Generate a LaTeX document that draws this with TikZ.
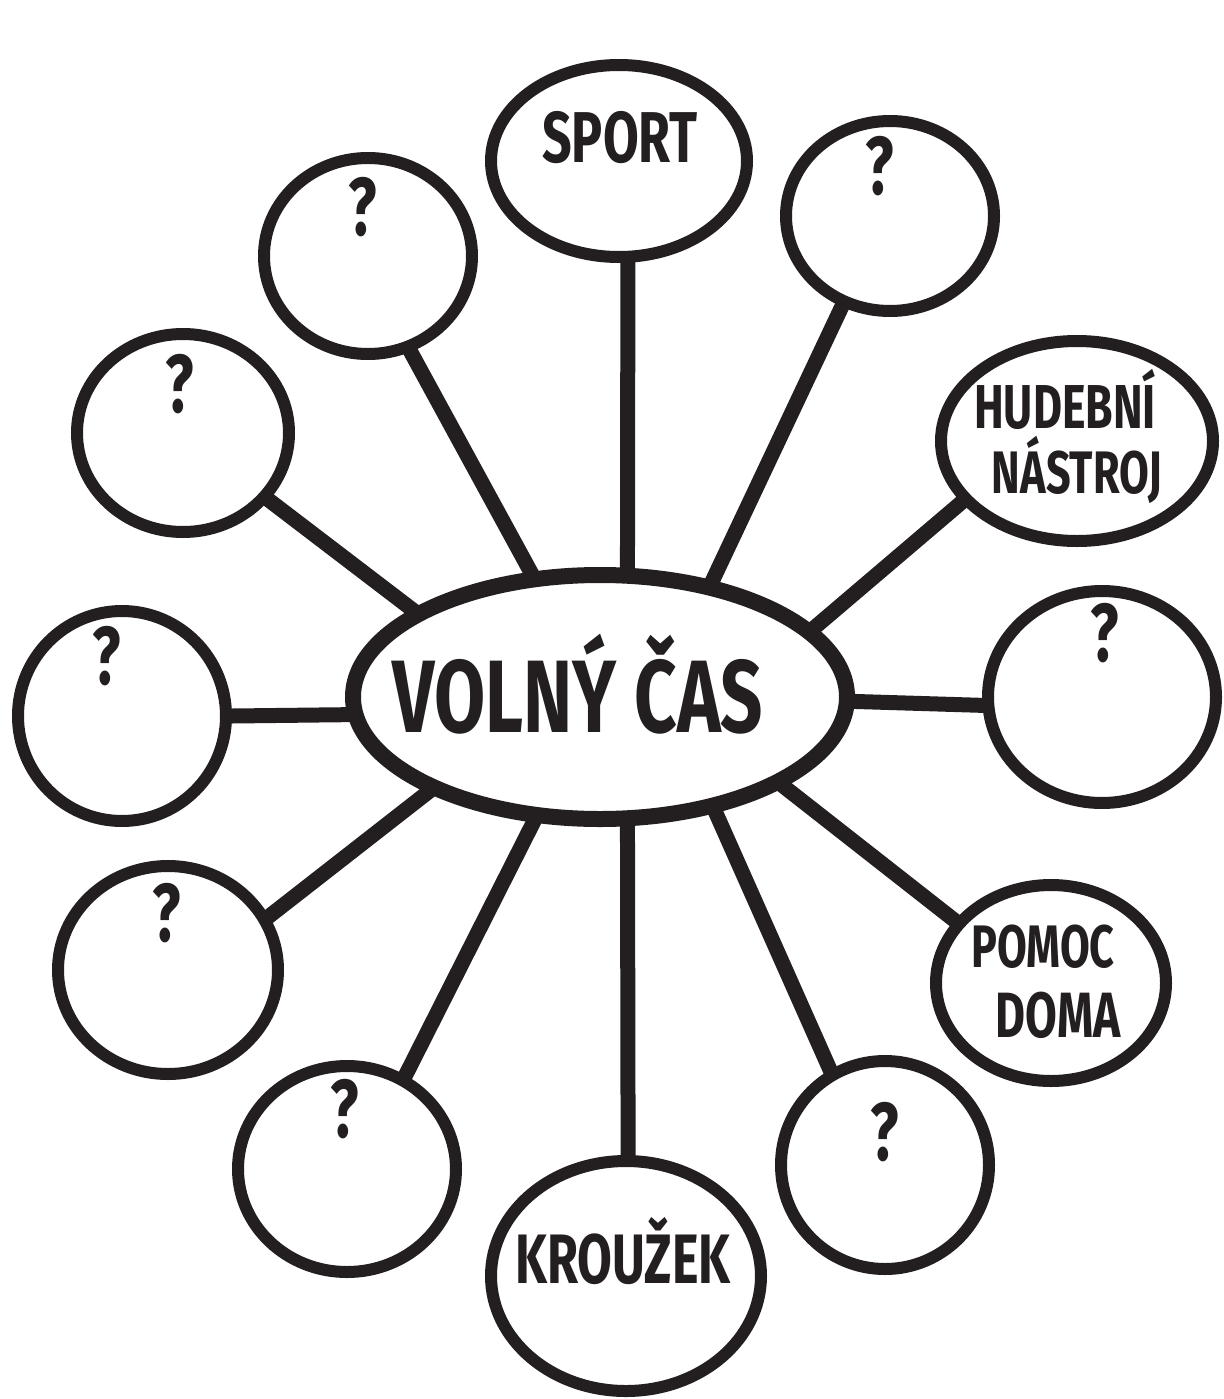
\documentclass[tikz,border=0pt]{standalone}
\usepackage{fontspec}
\usetikzlibrary{shapes.geometric,backgrounds}
\newfontfamily\hand[FakeStretch=0.72]{Fira Sans}
\newcommand\handsz[1]{\hand\bfseries\fontsize{#1}{#1}\selectfont}
\definecolor{ink}{HTML}{231F20}
\tikzset{
  bubble/.style={ellipse, draw=ink, line width=12pt, fill=white, inner sep=0pt},
  hub/.style={ellipse, draw=ink, line width=16pt, fill=white, inner sep=0pt,
              minimum width=494pt, minimum height=244pt},
  conn/.style={draw=ink, line width=15pt, shorten <=-8pt, shorten >=-8pt},
  lbl/.style={anchor=base, inner sep=0pt, text=ink},
  qm/.style={anchor=base, inner sep=0pt, text=ink, font=\hand\bfseries\fontsize{82}{82}\selectfont},
}
\begin{document}
\begin{tikzpicture}[x=1pt,y=-1pt]
\useasboundingbox (0,0) rectangle (1223,1399);
% hub and bubbles
\node[hub] (E) at (600,697) {};
\node[bubble, minimum width=256pt, minimum height=192pt] (c1) at (619,161) {};
\node[bubble, minimum width=208pt, minimum height=190pt] (c2) at (890,216) {};
\node[bubble, minimum width=272pt, minimum height=200pt] (c3) at (1077,441) {};
\node[bubble, minimum width=228pt, minimum height=212pt] (c4) at (1102,697) {};
\node[bubble, minimum width=230pt, minimum height=196pt] (c5) at (1051,983) {};
\node[bubble, minimum width=208pt, minimum height=208pt] (c6) at (885,1165) {};
\node[bubble, minimum width=270pt, minimum height=230pt] (c7) at (626,1276) {};
\node[bubble, minimum width=218pt, minimum height=206pt] (c8) at (347,1169) {};
\node[bubble, minimum width=220pt, minimum height=208pt] (c9) at (168,970) {};
\node[bubble, minimum width=208pt, minimum height=210pt] (c10) at (122,716) {};
\node[bubble, minimum width=212pt, minimum height=198pt] (c11) at (183,433) {};
\node[bubble, minimum width=208pt, minimum height=196pt] (c12) at (368,256) {};
% connectors
\begin{scope}[on background layer]
\fill[white] (0,0) rectangle (1223,1399);
\draw[conn] (c1.275) -- (E.78.9);
\draw[conn] (c2.242) -- (E.46.7);
\draw[conn] (c3.208) -- (E.18.1);
\draw[conn] (c4.184) -- (E.-1.7);
\draw[conn] (c5.147) -- (E.-26.1);
\draw[conn] (c6.120.5) -- (E.-45.7);
\draw[conn] (c7.89) -- (E.-78.5);
\draw[conn] (c8.58) -- (E.242.2);
\draw[conn] (c9.28) -- (E.209.1);
\draw[conn] (c10.0) -- (E.184.1);
\draw[conn] (c11.322) -- (E.155.3);
\draw[conn] (c12.294) -- (E.119.8);
\end{scope}
% labels
\node[lbl, font=\handsz{103}] (tE) at (578,732) {VOLNÝ ČAS};
\node[lbl, font=\handsz{72}] (t1) at (620,163) {SPORT};
\node[lbl, font=\handsz{62}] (t3a) at (1065,428) {HUDEBNÍ};
\node[lbl, font=\handsz{60}] (t3b) at (1077,493) {NÁSTROJ};
\node[lbl, font=\handsz{60}] (t5a) at (1043,967) {POMOC};
\node[lbl, font=\handsz{64}] (t5b) at (1058,1037) {DOMA};
\node[lbl, font=\handsz{70}] (t7) at (623,1283) {KROUŽEK};
% question marks
\node[qm] (q2) at (880,195) {?};
\node[qm] (q4) at (1105,661) {?};
\node[qm] (q6) at (885,1160) {?};
\node[qm] (q8) at (345,1137) {?};
\node[qm] (q9) at (167,941) {?};
\node[qm] (q10) at (107,684) {?};
\node[qm] (q11) at (180,412) {?};
\node[qm] (q12) at (363,235) {?};
\end{tikzpicture}
\end{document}
